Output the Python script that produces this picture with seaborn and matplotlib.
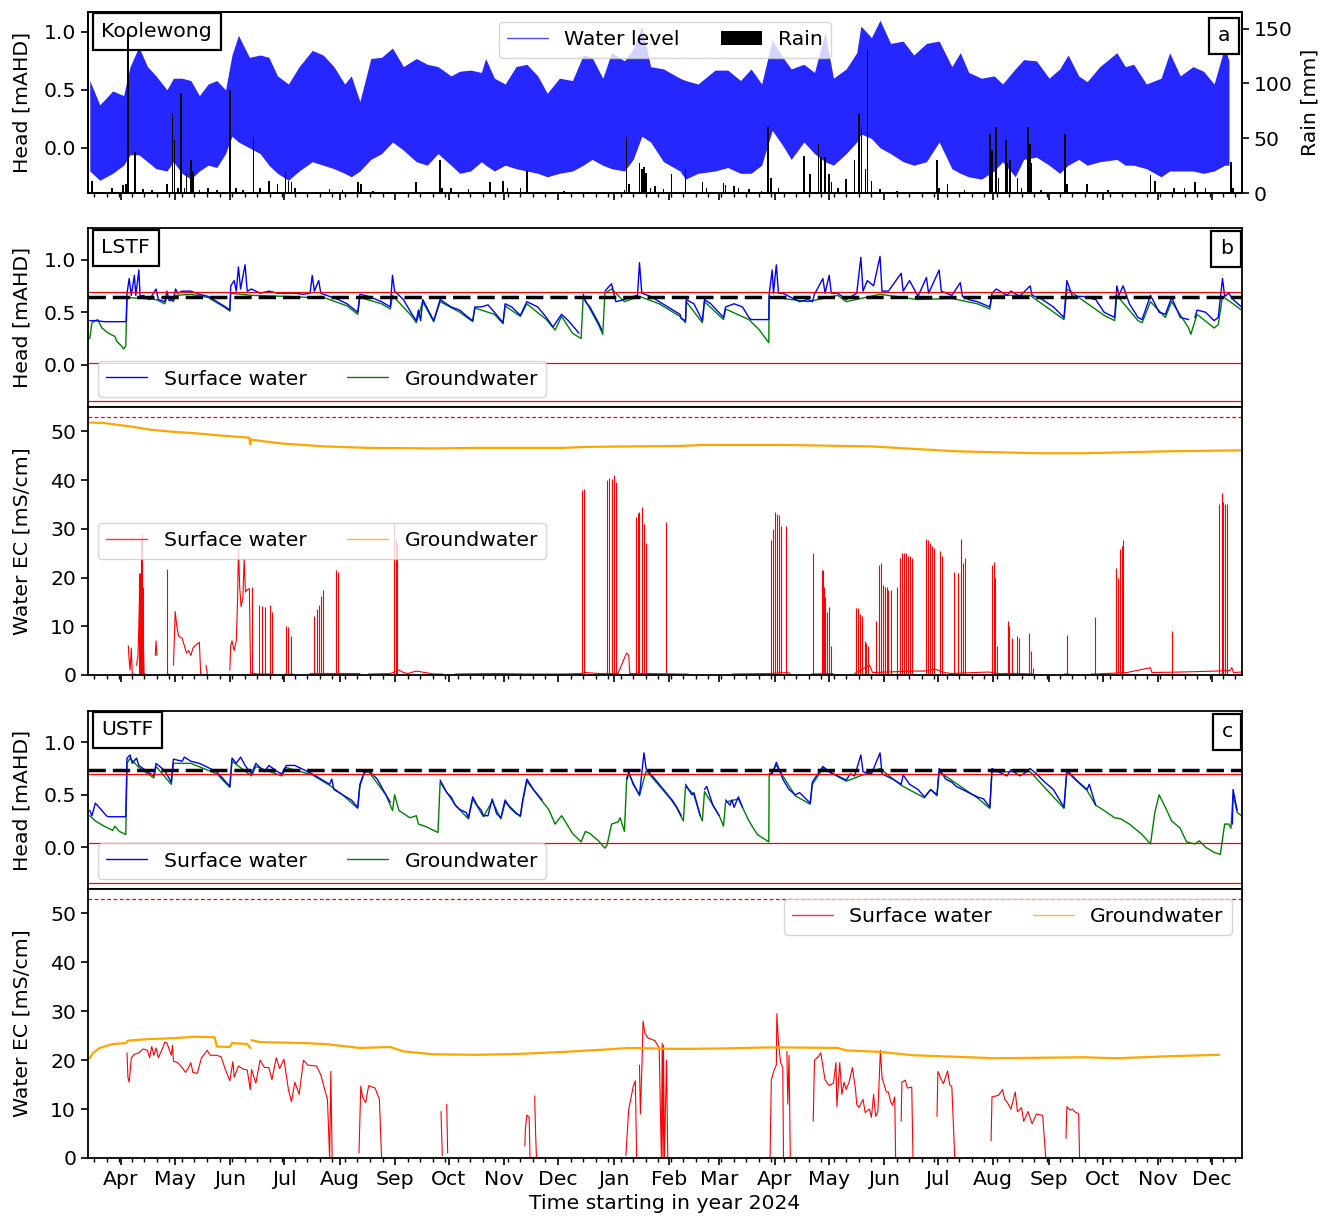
import numpy as np
import pandas as pd
import matplotlib
matplotlib.use("Agg")
import matplotlib.pyplot as plt
import matplotlib.dates as mdates
from matplotlib.lines import Line2D
import seaborn as sns

nan = np.nan
# day 0 = left edge of the time axis
T0 = pd.Timestamp("2024-03-13 13:40")
T_END = 644.3


def to_t(days):
    return T0 + pd.to_timedelta(np.asarray(days, dtype=float), unit="D")


# ---------------- a: Koolewong tide (high / low envelope) + rain ----------------
a_day = [1.0, 6.6, 13.8, 19.9, 23.5, 28.4, 33.2, 38.0, 44.1, 47.7,
         52.5, 57.4, 62.2, 67.1, 71.9, 76.8, 80.4, 84.0, 90.1, 96.1,
         101.0, 105.8, 111.9, 117.9, 125.2, 131.3, 137.3, 143.3, 147.0, 151.8,
         157.9, 163.9, 170.0, 176.1, 183.3, 189.4, 195.4, 202.7, 207.5, 213.6,
         219.6, 222.0, 226.9, 232.9, 239.0, 245.0, 251.1, 256.4, 263.2, 270.5,
         276.5, 281.4, 287.4, 292.3, 299.5, 304.4, 309.2, 314.1, 321.3, 330.5,
         333.6, 340.6, 350.1, 357.2, 364.3, 370.2, 376.1, 382.0, 387.9, 392.6,
         399.7, 405.6, 411.5, 416.2, 423.3, 429.2, 431.5, 437.4, 442.2, 448.1,
         455.1, 461.0, 468.1, 475.2, 482.3, 487.0, 491.7, 498.8, 505.9, 510.6,
         517.7, 522.4, 529.5, 536.6, 542.5, 547.2, 553.1, 557.8, 564.9, 574.4,
         579.1, 583.8, 590.9, 599.1, 603.9, 609.8, 616.9, 622.8, 628.7, 634.6,
         637.0]
a_hi = [0.58, 0.37, 0.49, 0.45, 0.70, 0.87, 0.70, 0.62, 0.50, 0.60,
        0.60, 0.58, 0.45, 0.55, 0.58, 0.50, 0.80, 0.97, 0.78, 0.80,
        0.78, 0.62, 0.55, 0.70, 0.84, 0.80, 0.70, 0.55, 0.62, 0.40,
        0.77, 0.78, 0.86, 0.70, 0.77, 0.72, 0.70, 0.62, 0.66, 0.67,
        0.65, 0.77, 0.60, 0.55, 0.70, 0.72, 0.62, 0.47, 0.60, 0.58,
        0.80, 0.78, 0.60, 0.82, 0.75, 0.85, 1.05, 0.70, 0.68, 0.60,
        0.58, 0.55, 0.67, 0.67, 0.58, 0.68, 0.55, 0.93, 0.78, 0.68,
        0.72, 0.65, 0.99, 0.60, 0.68, 0.82, 1.05, 0.95, 1.10, 0.90,
        0.92, 0.80, 0.90, 0.92, 0.70, 0.82, 0.65, 0.60, 0.62, 0.55,
        0.68, 0.76, 0.75, 0.60, 0.68, 0.80, 0.62, 0.57, 0.70, 0.82,
        0.70, 0.72, 0.55, 0.60, 0.82, 0.62, 0.70, 0.66, 0.55, 0.87,
        0.75]
a_lo = [-0.20, -0.28, -0.22, -0.15, -0.06, -0.06, -0.12, -0.18, -0.20, -0.12,
        -0.22, -0.27, -0.20, -0.15, -0.17, -0.05, 0.10, 0.05, 0.00, -0.05,
        -0.15, -0.22, -0.28, -0.20, -0.12, -0.15, -0.18, -0.22, -0.25, -0.20,
        -0.10, -0.05, 0.05, -0.02, -0.12, -0.15, -0.05, -0.15, -0.22, -0.20,
        -0.12, -0.15, -0.20, -0.15, -0.18, -0.20, -0.22, -0.25, -0.22, -0.20,
        -0.15, -0.10, -0.15, -0.18, -0.20, -0.10, 0.10, 0.05, -0.12, -0.20,
        -0.27, -0.22, -0.20, -0.17, -0.22, -0.22, -0.15, 0.15, 0.02, -0.10,
        0.05, -0.05, -0.12, -0.15, -0.05, 0.05, 0.12, 0.08, 0.00, -0.05,
        -0.12, -0.15, -0.12, 0.05, -0.18, -0.22, -0.25, -0.27, -0.20, -0.12,
        -0.25, -0.10, -0.08, -0.15, -0.22, -0.15, -0.10, -0.15, -0.12, -0.10,
        -0.15, -0.15, -0.18, -0.25, -0.20, -0.20, -0.20, -0.22, -0.20, -0.15,
        -0.15]

rain = [(2.4, 11), (13.3, 5), (19.4, 7), (21.1, 8), (22.5, 146), (26.4, 37), (30.8, 4), (35.6, 3),
        (44.1, 8), (47.2, 72), (48.2, 48), (50.1, 5), (52.1, 91), (53.8, 5), (55.0, 17), (57.4, 30),
        (58.6, 20), (62.2, 3), (67.1, 5), (71.9, 3), (79.2, 94), (82.8, 5), (86.5, 3), (92.5, 51),
        (96.1, 5), (101.0, 11), (105.8, 8), (110.2, 19), (111.9, 11), (113.6, 10), (115.5, 5),
        (134.9, 4), (142.1, 3), (150.6, 10), (152.3, 8), (159.1, 2), (183.3, 10), (196.6, 30),
        (197.8, 5), (202.7, 5), (212.4, 4), (224.5, 10), (231.7, 11), (234.2, 5), (241.4, 5),
        (245.0, 20), (265.6, 2), (299.5, 3), (300.7, 51), (301.9, 8), (307.9, 27), (309.2, 22),
        (310.4, 24), (311.6, 18), (314.1, 5), (316.5, 6), (321.3, 4), (325.7, 17), (333.6, 22),
        (343.0, 10), (345.4, 5), (354.8, 9), (356.0, 7), (360.7, 6), (363.1, 5), (369.0, 4),
        (376.1, 2), (379.6, 60), (381.3, 14), (385.5, 5), (399.7, 34), (403.2, 17), (407.9, 45),
        (409.1, 33), (411.5, 33), (413.8, 17), (415.0, 10), (418.6, 5), (423.3, 13), (428.0, 30),
        (430.4, 72), (431.8, 60), (434.1, 22), (435.1, 130), (437.4, 11), (442.2, 4), (451.6, 2),
        (474.0, 30), (475.2, 5), (479.9, 8), (489.4, 3), (503.5, 54), (504.7, 39), (507.1, 60),
        (508.3, 14), (512.5, 48), (513.4, 27), (514.9, 30), (518.9, 14), (521.2, 5), (524.8, 60),
        (526.0, 45), (526.7, 27), (531.9, 3), (545.6, 54), (546.5, 8), (557.8, 8), (569.6, 3),
        (593.2, 16), (595.6, 11), (606.2, 5), (612.1, 5), (618.0, 10), (623.9, 5), (638.1, 28),
        (639.3, 5)]

# ---------------- b: LSTF ----------------
b_sw = [(1.0, 0.42), (4.1, 0.42), (9.0, 0.41), (13.8, 0.41), (18.7, 0.41), (21.3, 0.41), (21.8, 0.68),
        (23.0, 0.82), (24.2, 0.66), (25.9, 0.85), (26.7, 0.66), (28.4, 0.90), (29.1, 0.65), (30.8, 0.66),
        (34.4, 0.62), (38.0, 0.72), (39.3, 0.62), (42.9, 0.60), (44.1, 0.70), (45.3, 0.61), (47.7, 0.62),
        (48.9, 0.72), (50.1, 0.68), (52.6, 0.70), (57.4, 0.70), (62.2, 0.67), (67.1, 0.65), (71.9, 0.60),
        (76.8, 0.55), (79.2, 0.52), (79.7, 0.75), (81.6, 0.80), (82.8, 0.70), (84.0, 0.93), (85.2, 0.72),
        (87.7, 0.95), (88.9, 0.70), (91.3, 0.72), (96.1, 0.68), (101.0, 0.70), (105.8, 0.68), (110.7, 0.68),
        (115.5, 0.68), (120.3, 0.67), (124.0, 0.68), (125.2, 0.85), (126.4, 0.70), (128.8, 0.80),
        (130.0, 0.68), (134.9, 0.65), (139.7, 0.62), (144.6, 0.58), (150.6, 0.50), (151.8, 0.67),
        (156.7, 0.65), (163.9, 0.60), (168.8, 0.55), (170.0, 0.85), (171.2, 0.70), (176.1, 0.62),
        (180.9, 0.48), (183.3, 0.42), (184.5, 0.52), (185.7, 0.42), (186.9, 0.62), (190.6, 0.50),
        (193.0, 0.42), (196.6, 0.62), (202.7, 0.55), (207.5, 0.52), (212.4, 0.45), (214.8, 0.42),
        (216.0, 0.55), (219.6, 0.55), (223.3, 0.57), (226.9, 0.50), (231.7, 0.40), (232.9, 0.58),
        (236.6, 0.55), (241.4, 0.47), (245.0, 0.60), (251.1, 0.55), (255.9, 0.45), (259.6, 0.36),
        (262.0, 0.42), (264.4, 0.48), (268.1, 0.42), (271.7, 0.35), (274.1, 0.30), (275.0, nan),
        (276.5, 0.67), (277.7, 0.60), (280.2, 0.55), (285.0, 0.40), (286.9, 0.33), (287.5, nan),
        (288.6, 0.70), (292.3, 0.77), (294.7, 0.60), (299.5, 0.62), (304.4, 0.65), (306.8, 0.66),
        (307.9, 0.97), (309.2, 0.68), (314.1, 0.65), (318.9, 0.60), (323.7, 0.55), (330.5, 0.48),
        (331.2, 0.44), (333.6, 0.42), (334.0, 0.62), (338.3, 0.58), (343.0, 0.42), (344.2, 0.62),
        (347.7, 0.58), (354.8, 0.45), (356.0, 0.55), (360.7, 0.58), (365.4, 0.55), (369.0, 0.45),
        (370.2, 0.43), (374.9, 0.43), (380.1, 0.43), (380.3, 0.67), (382.0, 0.90), (382.7, 0.68),
        (384.3, 0.95), (385.5, 0.68), (387.9, 0.68), (392.6, 0.64), (397.3, 0.60), (402.0, 0.62),
        (404.4, 0.60), (405.6, 0.67), (410.3, 0.82), (411.5, 0.68), (413.8, 0.85), (415.0, 0.68),
        (418.6, 0.68), (423.3, 0.62), (429.2, 0.68), (431.5, 1.02), (432.7, 0.70), (435.1, 0.80),
        (438.6, 0.75), (442.2, 1.03), (443.3, 0.70), (446.9, 0.70), (454.0, 0.87), (455.1, 0.70),
        (458.7, 0.80), (463.4, 0.65), (468.1, 0.83), (469.3, 0.68), (475.2, 0.90), (476.4, 0.70),
        (482.3, 0.66), (487.0, 0.78), (488.2, 0.65), (491.7, 0.62), (496.5, 0.60), (503.5, 0.55),
        (504.7, 0.68), (507.1, 0.72), (513.0, 0.66), (515.3, 0.70), (520.1, 0.65), (526.0, 0.75),
        (527.1, 0.66), (531.9, 0.63), (539.0, 0.55), (544.9, 0.45), (546.5, 0.80), (549.6, 0.65),
        (555.5, 0.65), (562.6, 0.62), (567.3, 0.50), (573.2, 0.45), (574.4, 0.75), (575.6, 0.66),
        (577.9, 0.75), (581.4, 0.58), (586.2, 0.45), (588.5, 0.43), (593.2, 0.66), (598.0, 0.50),
        (601.5, 0.48), (605.0, 0.64), (609.8, 0.45), (614.5, 0.43), (616.0, nan), (618.0, 0.45),
        (619.2, 0.52), (623.9, 0.50), (628.7, 0.42), (631.0, 0.45), (633.4, 0.82), (634.6, 0.65),
        (636.9, 0.68), (639.3, 0.62), (644.0, 0.55)]
b_gw = [(1.0, 0.25), (2.2, 0.40), (5.4, 0.43), (7.8, 0.35), (11.4, 0.30), (15.0, 0.27), (16.2, 0.22),
        (18.7, 0.18), (19.9, 0.15), (21.1, 0.18), (21.8, 0.64), (30.8, 0.63), (38.0, 0.62), (42.9, 0.58),
        (44.1, 0.65), (47.7, 0.60), (48.9, 0.66), (57.4, 0.67), (67.1, 0.64), (76.8, 0.54), (79.2, 0.51),
        (79.7, 0.68), (91.3, 0.66), (110.7, 0.65), (124.0, 0.64), (130.0, 0.65), (144.6, 0.56),
        (150.6, 0.48), (151.8, 0.64), (163.9, 0.58), (168.8, 0.53), (170.0, 0.66), (180.9, 0.46),
        (183.3, 0.40), (186.9, 0.60), (193.0, 0.41), (196.6, 0.60), (207.5, 0.50), (214.8, 0.41),
        (216.0, 0.54), (226.9, 0.48), (231.7, 0.39), (232.9, 0.56), (241.4, 0.46), (245.0, 0.58),
        (255.9, 0.43), (260.8, 0.33), (264.4, 0.46), (270.5, 0.30), (275.3, 0.25), (276.5, 0.65),
        (285.0, 0.38), (287.4, 0.29), (288.6, 0.68), (292.3, 0.72), (299.5, 0.60), (307.9, 0.65),
        (318.9, 0.58), (330.5, 0.46), (333.6, 0.40), (334.0, 0.60), (343.0, 0.40), (344.2, 0.60),
        (354.8, 0.43), (356.0, 0.53), (369.0, 0.43), (374.9, 0.33), (380.1, 0.21), (380.3, 0.65),
        (392.6, 0.62), (402.0, 0.60), (418.6, 0.66), (423.3, 0.60), (442.2, 0.67), (463.4, 0.62),
        (482.3, 0.63), (496.5, 0.58), (503.5, 0.53), (504.7, 0.66), (526.0, 0.66), (544.9, 0.43),
        (546.5, 0.72), (567.3, 0.47), (573.2, 0.42), (574.4, 0.66), (586.2, 0.42), (588.5, 0.40),
        (593.2, 0.60), (601.5, 0.45), (605.0, 0.60), (614.5, 0.35), (615.7, 0.29), (619.2, 0.48),
        (628.7, 0.35), (631.0, 0.38), (633.4, 0.65), (639.3, 0.58), (644.0, 0.52)]
b_red_lines = [0.69, 0.02, -0.34]
b_dash = 0.64

b_ec_gw = [(1.0, 51.8), (9.0, 51.7), (23.5, 51.0), (35.6, 50.3), (47.7, 49.9), (59.8, 49.6), (71.9, 49.2),
           (90.1, 48.7), (90.6, 47.3), (90.8, 48.3), (108.2, 47.5), (132.5, 46.9), (156.7, 46.6),
           (193.0, 46.5), (217.2, 46.6), (265.6, 46.6), (277.7, 46.8), (301.9, 46.9), (330.5, 47.0),
           (343.0, 47.2), (390.2, 47.2), (437.4, 46.9), (465.8, 46.3), (484.7, 45.9), (531.9, 45.5),
           (555.5, 45.5), (579.1, 45.7), (602.7, 45.9), (644.0, 46.1)]
b_ec_sw = [(22.5, 6.0), (23.0, 3.0), (23.5, 1.0), (24.2, 5.5), (24.7, 0.2), (26.0, 0.2), (26.5, nan),
           (27.1, 2.0), (27.9, 4.0), (28.4, 10.0), (29.0, 20.0), (30.3, 18.0), (31.3, 0.3), (32.0, 0.2),
           (33.0, nan), (37.6, 4.0), (38.0, 7.0), (38.5, 4.0), (40.0, nan), (44.1, 0.2), (45.3, 0.2),
           (46.0, nan), (47.7, 2.0), (48.7, 13.0), (49.6, 10.0), (50.6, 8.0), (52.6, 7.5), (53.8, 6.0),
           (55.0, 4.5), (56.2, 5.0), (57.4, 4.0), (58.6, 5.5), (59.8, 6.0), (62.2, 6.7), (62.9, 0.3),
           (63.4, 0.2), (64.0, nan), (65.9, 2.0), (66.6, 0.2), (70.0, nan), (79.2, 1.0), (79.7, 6.0),
           (80.4, 7.0), (81.6, 5.0), (82.8, 7.0), (83.5, 15.0), (84.0, 26.0), (84.7, 18.0), (85.5, 14.0),
           (86.5, 16.0), (87.2, 24.0), (87.9, 17.0), (88.9, 17.5), (90.1, 17.7), (90.8, 0.3), (95.0, 0.2),
           (103.3, 0.2), (105.0, nan), (110.0, 0.2), (114.3, 0.2), (116.0, nan), (124.0, 0.3), (132.0, 0.3),
           (137.3, 0.3), (151.8, 0.3), (153.0, nan), (156.7, 0.2), (168.8, 0.3), (173.6, 1.0), (176.1, 0.5),
           (178.5, 0.3), (183.3, 0.8), (193.0, 0.2), (197.8, 0.2), (200.0, nan), (205.0, 0.2), (226.9, 0.3),
           (245.0, 0.2), (265.6, 0.2), (275.3, 0.3), (277.7, 0.5), (285.0, 0.3), (295.9, 0.3), (300.7, 4.5),
           (301.9, 4.0), (302.5, 0.3), (312.8, 0.3), (330.5, 0.2), (335.0, 0.2), (345.0, nan), (360.0, 0.2),
           (380.5, 0.3), (390.5, 0.5), (392.0, 0.3), (400.0, nan), (404.0, 0.2), (416.0, 0.3), (420.0, nan),
           (428.0, 0.3), (436.3, 2.0), (437.0, 1.5), (438.0, 0.5), (461.0, 0.8), (467.0, 0.8), (473.0, 1.2),
           (478.0, 0.5), (482.0, 0.3), (495.0, 0.5), (503.0, 0.6), (508.0, 0.3), (520.0, 0.3), (528.0, 0.2),
           (535.0, nan), (545.0, 0.2), (547.5, 0.2), (555.0, nan), (560.0, 0.2), (563.0, 0.2), (568.0, 0.3),
           (580.0, 0.5), (593.2, 1.5), (594.0, 0.5), (610.0, 0.6), (620.0, 0.7), (630.0, 0.8), (637.5, 0.9),
           (638.6, 1.5), (639.5, 0.5), (644.0, 0.6)]
# short saline spikes in surface-water EC (day, peak)
b_ec_spk = [(28.4, 21.0), (28.9, 21.0), (29.6, 27.7), (30.3, 29.0), (30.8, 18.0), (44.1, 21.7),
            (91.8, 18.0), (95.6, 14.3), (97.3, 14.2), (99.0, 14.0), (101.5, 14.3), (102.9, 13.0),
            (110.7, 10.0), (111.9, 9.8), (113.6, 8.0), (126.4, 12.2), (127.6, 13.5), (128.8, 14.3),
            (130.0, 16.2), (131.3, 17.5), (138.5, 21.5), (139.7, 21.2), (170.7, 31.0), (171.7, 27.6),
            (172.7, 27.0), (275.8, 38.0), (276.8, 38.2), (289.8, 40.0), (291.0, 40.5), (292.3, 40.2),
            (293.5, 41.0), (294.7, 39.5), (306.0, 32.5), (307.3, 33.2), (307.9, 33.5), (309.2, 34.5),
            (310.4, 31.0), (311.6, 27.0), (322.5, 31.3), (381.5, 27.7), (382.2, 30.0), (383.6, 33.5),
            (384.8, 33.0), (385.7, 32.8), (386.7, 30.6), (389.8, 30.6), (404.9, 25.0), (409.6, 21.5),
            (410.3, 21.5), (411.0, 18.0), (411.5, 16.0), (412.6, 13.0), (413.8, 14.0), (415.0, 6.0),
            (428.7, 13.7), (429.9, 13.7), (430.8, 12.5), (432.2, 12.0), (433.9, 7.0), (434.6, 6.5),
            (435.5, 6.0), (439.8, 11.0), (441.7, 22.5), (442.6, 23.0), (443.8, 18.5), (445.0, 18.0),
            (445.9, 18.0), (446.9, 17.5), (448.1, 17.5), (451.6, 18.0), (453.2, 24.0), (454.4, 25.0),
            (455.6, 25.0), (456.8, 25.0), (458.0, 24.5), (459.2, 24.5), (460.3, 24.0), (468.1, 28.0),
            (469.1, 27.7), (470.0, 27.0), (471.2, 26.5), (472.4, 26.0), (475.7, 25.5), (476.6, 24.5),
            (483.5, 21.2), (485.8, 21.0), (487.5, 27.9), (488.4, 23.0), (489.4, 24.0), (504.7, 22.6),
            (505.7, 23.1), (506.6, 20.0), (507.6, 6.0), (513.4, 11.0), (514.4, 10.0), (515.6, 7.5),
            (518.9, 7.9), (519.8, 7.5), (525.3, 8.7), (526.4, 5.0), (527.4, 1.5), (546.5, 8.2),
            (562.1, 11.8), (573.9, 21.9), (575.3, 20.0), (576.3, 25.8), (577.2, 26.5), (578.1, 27.8),
            (605.0, 9.0), (631.7, 35.1), (632.9, 37.4), (633.9, 35.5), (635.0, 35.0), (636.0, 35.0)]

# ---------------- c: USTF ----------------
c_sw = [(1.0, 0.35), (2.2, 0.30), (4.1, 0.42), (7.8, 0.35), (10.2, 0.30), (11.4, 0.29), (21.1, 0.29),
        (21.8, 0.85), (23.5, 0.88), (24.7, 0.80), (27.1, 0.85), (28.4, 0.78), (33.2, 0.72), (36.8, 0.68),
        (38.0, 0.80), (42.9, 0.73), (46.5, 0.62), (47.7, 0.84), (52.6, 0.82), (53.8, 0.86), (57.4, 0.82),
        (62.2, 0.80), (67.1, 0.76), (71.9, 0.72), (79.2, 0.58), (80.4, 0.85), (82.8, 0.80), (85.2, 0.86),
        (87.7, 0.78), (91.3, 0.70), (93.7, 0.80), (98.5, 0.72), (101.0, 0.78), (105.8, 0.72), (108.2, 0.70),
        (110.7, 0.78), (115.5, 0.78), (120.3, 0.74), (125.2, 0.70), (130.0, 0.65), (134.9, 0.60),
        (136.1, 0.65), (137.3, 0.55), (142.1, 0.50), (147.0, 0.45), (150.6, 0.38), (151.8, 0.60),
        (154.3, 0.72), (156.7, 0.73), (161.5, 0.65), (166.3, 0.50), (168.8, 0.43), (169.5, nan),
        (196.6, 0.64), (200.3, 0.52), (202.7, 0.48), (205.1, 0.40), (207.5, 0.36), (211.2, 0.33),
        (212.4, 0.28), (214.8, 0.48), (217.2, 0.40), (219.6, 0.35), (220.8, 0.30), (223.3, 0.30),
        (225.7, 0.46), (228.1, 0.32), (230.5, 0.28), (232.9, 0.45), (235.4, 0.38), (239.0, 0.32),
        (241.4, 0.30), (242.6, 0.44), (245.0, 0.65), (248.7, 0.55), (251.1, 0.50), (253.5, 0.45),
        (254.0, nan), (300.7, 0.65), (301.9, 0.72), (304.4, 0.60), (307.9, 0.50), (310.4, 0.90),
        (311.6, 0.75), (316.5, 0.65), (321.3, 0.55), (326.1, 0.45), (328.8, 0.38), (331.2, 0.30),
        (332.0, nan), (333.6, 0.60), (337.1, 0.50), (338.3, 0.52), (341.8, 0.30), (342.5, nan),
        (344.2, 0.55), (345.4, 0.58), (348.9, 0.40), (352.4, 0.30), (353.0, nan), (356.0, 0.45),
        (358.4, 0.40), (359.5, 0.45), (360.7, 0.38), (363.1, 0.48), (365.4, 0.38), (366.0, nan),
        (380.3, 0.70), (382.0, 0.70), (384.3, 0.81), (387.9, 0.65), (391.4, 0.55), (394.9, 0.50),
        (397.3, 0.52), (399.7, 0.48), (403.2, 0.42), (404.4, 0.62), (406.7, 0.68), (410.3, 0.77),
        (413.8, 0.72), (418.6, 0.68), (423.3, 0.64), (425.6, 0.70), (428.0, 0.68), (431.5, 0.88),
        (432.7, 0.72), (437.4, 0.70), (442.2, 0.90), (443.3, 0.70), (449.2, 0.65), (454.0, 0.60),
        (455.1, 0.69), (458.7, 0.60), (463.4, 0.55), (467.0, 0.48), (470.5, 0.55), (474.0, 0.50),
        (475.2, 0.75), (478.8, 0.65), (482.3, 0.62), (484.7, 0.58), (488.2, 0.55), (491.7, 0.52),
        (496.5, 0.48), (500.0, 0.46), (503.5, 0.38), (504.7, 0.75), (508.3, 0.72), (513.0, 0.68),
        (515.3, 0.74), (520.1, 0.68), (522.4, 0.70), (526.0, 0.75), (529.5, 0.70), (534.2, 0.62),
        (539.0, 0.55), (544.9, 0.38), (546.5, 0.74), (549.6, 0.68), (553.1, 0.62), (557.8, 0.55),
        (559.0, 0.60), (562.6, 0.40), (563.0, nan), (638.9, 0.22), (639.3, 0.55), (641.6, 0.35)]
c_gw = [(1.0, 0.30), (4.1, 0.25), (9.0, 0.20), (13.8, 0.16), (15.0, 0.20), (17.5, 0.15), (21.1, 0.12),
        (21.8, 0.80), (23.5, 0.85), (28.4, 0.76), (36.8, 0.66), (38.0, 0.77), (46.5, 0.60), (47.7, 0.80),
        (57.4, 0.80), (71.9, 0.70), (79.2, 0.57), (80.4, 0.82), (91.3, 0.68), (93.7, 0.77), (108.2, 0.68),
        (110.7, 0.76), (125.2, 0.69), (134.9, 0.59), (142.1, 0.50), (150.6, 0.37), (151.8, 0.58),
        (154.3, 0.71), (156.7, 0.72), (166.3, 0.50), (170.0, 0.35), (171.2, 0.50), (173.6, 0.35),
        (179.7, 0.28), (183.3, 0.30), (184.5, 0.22), (188.1, 0.20), (193.0, 0.16), (195.4, 0.14),
        (196.6, 0.62), (205.1, 0.40), (212.4, 0.27), (214.8, 0.46), (220.8, 0.29), (225.7, 0.44),
        (230.5, 0.27), (232.9, 0.43), (241.4, 0.29), (242.6, 0.42), (245.0, 0.63), (253.5, 0.44),
        (257.2, 0.36), (260.8, 0.22), (264.4, 0.30), (268.1, 0.20), (270.5, 0.13), (275.3, 0.05),
        (277.7, 0.15), (280.2, 0.13), (285.0, 0.06), (288.6, -0.01), (289.8, 0.02), (292.3, 0.22),
        (295.9, 0.24), (297.1, 0.28), (299.5, 0.15), (300.7, 0.63), (301.9, 0.70), (307.9, 0.49),
        (311.6, 0.73), (321.3, 0.54), (326.1, 0.44), (328.8, 0.37), (332.4, 0.25), (333.6, 0.58),
        (338.3, 0.50), (341.8, 0.30), (343.0, 0.25), (344.2, 0.53), (348.9, 0.40), (352.4, 0.30),
        (354.8, 0.20), (356.0, 0.43), (363.1, 0.46), (365.4, 0.38), (369.0, 0.25), (373.7, 0.12),
        (380.1, 0.05), (380.3, 0.68), (384.3, 0.78), (394.9, 0.49), (403.2, 0.41), (404.4, 0.60),
        (410.3, 0.75), (423.3, 0.63), (442.2, 0.75), (454.0, 0.59), (467.0, 0.47), (470.5, 0.55),
        (474.0, 0.49), (475.2, 0.72), (496.5, 0.47), (503.5, 0.37), (504.7, 0.72), (526.0, 0.72),
        (544.9, 0.37), (546.5, 0.72), (557.8, 0.54), (562.6, 0.40), (567.3, 0.35), (573.2, 0.28),
        (576.7, 0.27), (581.4, 0.22), (588.5, 0.12), (593.2, 0.03), (595.6, 0.33), (598.0, 0.50),
        (601.5, 0.38), (605.0, 0.25), (609.8, 0.18), (613.3, 0.05), (618.0, 0.03), (620.4, 0.06),
        (623.9, 0.00), (628.7, -0.05), (632.2, -0.07), (634.6, 0.22), (636.9, 0.22), (638.1, 0.18),
        (639.3, 0.50), (641.6, 0.33), (644.0, 0.30)]
c_red_lines = [0.70, 0.035, -0.34]
c_dash = 0.74

c_ec_gw = [(1.0, 20.4), (2.9, 21.5), (6.6, 22.5), (13.8, 23.3), (21.1, 23.5), (22.3, 24.0), (33.2, 24.3),
           (47.7, 24.5), (59.8, 24.8), (70.7, 24.7), (71.9, 22.8), (79.2, 22.7), (80.4, 23.5), (88.9, 23.3),
           (90.6, 22.5), (90.9, nan), (91.3, 24.1), (96.1, 23.7), (120.3, 23.5), (132.5, 23.3),
           (144.6, 22.8), (151.8, 22.5), (168.8, 22.7), (176.1, 21.8), (193.0, 21.2), (217.2, 21.1),
           (241.4, 21.3), (265.6, 21.7), (289.8, 22.2), (301.9, 22.5), (330.5, 22.3), (354.8, 22.4),
           (378.4, 22.6), (390.2, 22.6), (418.6, 22.5), (423.3, 22.0), (442.2, 21.7), (461.0, 21.0),
           (484.7, 20.7), (505.9, 20.4), (531.9, 20.5), (555.5, 20.6), (574.4, 20.4), (602.7, 20.8),
           (631.5, 21.1)]
c_ec_sw = [(21.8, 21.5), (22.3, 16.5), (23.0, 15.5), (24.2, 20.5), (25.9, 21.2), (28.4, 21.5), (30.8, 22.3),
           (33.2, 22.0), (34.4, 20.5), (35.6, 22.8), (36.8, 21.0), (38.0, 22.5), (39.3, 20.5), (41.7, 22.5),
           (42.9, 23.7), (44.1, 23.5), (46.5, 21.0), (47.2, 23.0), (47.7, 19.8), (50.1, 19.5), (52.6, 18.5),
           (54.5, 17.5), (56.2, 18.5), (57.4, 19.5), (58.6, 17.5), (61.0, 17.3), (63.4, 20.5), (66.6, 22.0),
           (68.3, 21.0), (71.9, 21.0), (74.3, 20.7), (76.8, 18.0), (79.2, 15.8), (80.9, 19.7), (81.6, 16.5),
           (84.0, 18.8), (86.5, 18.2), (88.9, 18.0), (90.6, 14.0), (91.3, 18.1), (93.7, 15.3), (96.1, 20.0),
           (98.5, 18.5), (101.0, 18.5), (102.7, 16.0), (105.1, 20.5), (107.0, 18.3), (109.4, 20.2),
           (111.9, 14.0), (113.6, 11.5), (115.5, 15.5), (117.9, 13.0), (120.3, 20.0), (122.8, 19.0),
           (127.6, 18.8), (130.0, 17.0), (132.5, 13.5), (133.7, 12.0), (134.9, 0.0), (135.6, 17.7),
           (136.3, 0.0), (138.0, 0.0), (138.5, nan), (151.3, 1.0), (152.3, 14.7), (153.3, 12.5),
           (155.0, 11.3), (156.7, 14.8), (160.3, 14.3), (162.7, 12.0), (163.9, 0.0), (166.3, 0.0),
           (166.8, nan), (197.1, 9.5), (197.8, 0.5), (198.5, nan), (200.3, 11.0), (200.8, 1.0), (201.5, nan),
           (243.9, 2.5), (244.2, 6.0), (245.0, 8.8), (246.3, 8.3), (246.8, 0.0), (247.5, nan), (249.4, 12.7),
           (249.9, 5.0), (250.4, 0.0), (251.0, nan), (300.3, 0.5), (301.9, 10.0), (304.4, 14.6),
           (305.6, 15.8), (306.3, 0.0), (307.0, nan), (307.9, 19.0), (308.4, 9.0), (309.2, 18.0),
           (309.9, 28.0), (310.9, 25.5), (312.8, 24.5), (316.5, 24.0), (318.9, 22.5), (320.1, 0.0),
           (320.6, 23.5), (321.0, 0.0), (321.3, 23.0), (321.8, 0.0), (323.0, 20.0), (323.7, 0.0),
           (324.9, 0.0), (325.5, nan), (380.8, 0.0), (381.5, 16.0), (383.1, 18.0), (384.3, 19.0),
           (384.6, 29.5), (385.5, 23.5), (386.7, 19.5), (387.9, 18.5), (388.3, 0.0), (389.0, nan),
           (390.2, 21.8), (390.7, 11.0), (391.4, 21.0), (392.1, 0.0), (392.8, nan), (404.9, 7.5),
           (405.6, 20.0), (407.9, 20.8), (409.1, 21.5), (411.5, 16.0), (413.8, 14.8), (416.2, 15.3),
           (417.6, 19.5), (418.1, 10.5), (419.7, 19.5), (420.9, 13.0), (422.1, 15.5), (423.3, 14.0),
           (424.9, 15.5), (426.8, 18.5), (428.5, 14.0), (429.2, 11.0), (430.4, 10.3), (432.7, 12.0),
           (433.9, 9.3), (436.3, 10.0), (437.4, 8.3), (438.6, 13.0), (439.8, 8.5), (441.0, 9.5),
           (442.4, 22.0), (443.3, 16.5), (445.7, 13.5), (446.9, 13.5), (448.1, 11.5), (449.2, 10.8),
           (450.4, 12.5), (450.9, 0.0), (451.5, nan), (454.0, 7.5), (454.4, 15.5), (456.3, 15.9),
           (457.5, 14.3), (459.9, 14.5), (460.6, 0.0), (461.2, nan), (474.0, 8.5), (474.5, 17.7),
           (476.4, 16.0), (477.6, 15.2), (479.9, 17.8), (481.1, 15.0), (482.3, 14.5), (483.9, 0.0),
           (484.5, nan), (504.2, 3.5), (504.7, 12.5), (508.3, 12.8), (510.6, 14.0), (511.8, 12.0),
           (513.0, 11.5), (515.3, 10.0), (517.7, 13.5), (518.9, 9.5), (521.2, 10.3), (522.4, 7.5),
           (524.8, 9.5), (527.1, 7.0), (529.5, 9.0), (533.0, 8.7), (534.7, 0.0), (535.3, nan),
           (546.0, 4.0), (546.5, 10.5), (548.4, 9.8), (549.6, 10.0), (550.7, 9.5), (553.1, 9.0),
           (553.6, 0.0)]
ec_ref = 53.0


def xy(pairs):
    arr = np.array(pairs, dtype=float)
    return to_t(arr[:, 0]), arr[:, 1]


# ---------------- figure ----------------
FS = 14.7
sns.set_theme(style="ticks", rc={
    "font.size": FS, "axes.labelsize": FS, "xtick.labelsize": FS, "ytick.labelsize": FS,
    "legend.fontsize": FS, "axes.edgecolor": "black", "axes.linewidth": 1.3,
    "xtick.color": "black", "ytick.color": "black", "text.color": "black", "axes.labelcolor": "black",
    "xtick.major.size": 5, "xtick.minor.size": 3, "ytick.major.size": 5,
    "xtick.major.width": 1.2, "xtick.minor.width": 1.0, "ytick.major.width": 1.2,
})
plt.rcParams["font.family"] = ["DejaVu Sans"]

fig = plt.figure(figsize=(13.23, 12.21), dpi=100)
L, W = 0.0665, 0.8723
ax_a = fig.add_axes([L, 0.8419, W, 0.1482])
ax_bh = fig.add_axes([L, 0.6667, W, 0.1466])
ax_be = fig.add_axes([L, 0.4472, W, 0.2195])
ax_ch = fig.add_axes([L, 0.2719, W, 0.1458])
ax_ce = fig.add_axes([L, 0.0516, W, 0.2203])

box = dict(boxstyle="square,pad=0.42", fc="white", ec="black", lw=1.6)

# a
ta = to_t(a_day)
ax_a.fill_between(ta, a_lo, a_hi, color="blue", lw=0, alpha=0.85)
ax_a.set_ylim(-0.39, 1.17)
ax_a.set_yticks([0.0, 0.5, 1.0])
ax_a.set_ylabel("Head [mAHD]")
ax_a.text(0.0115, 0.945, "Koolewong", transform=ax_a.transAxes, ha="left", va="top", bbox=box)
ax_r = ax_a.twinx()
rt, rv = xy(rain)
bars = ax_r.bar(rt, rv, width=0.9, color="black", edgecolor="none", linewidth=0)
ax_r.set_ylim(0, 165)
ax_r.set_yticks([0, 50, 100, 150])
ax_r.set_ylabel("Rain [mm]")
ax_r.yaxis.set_label_coords(1.051, 0.5)
ax_r.text(0.990, 0.922, "a", transform=ax_r.transAxes, ha="right", va="top", bbox=box)
ax_r.legend([Line2D([], [], color="blue", lw=1, alpha=0.7), bars], ["Water level", "Rain"],
            loc="upper center", ncol=2, frameon=True, fancybox=True)


def head_panel(ax, sw, gw, reds, dash, name, letter, ytxt):
    gt, gv = xy(gw)
    sns.lineplot(x=gt, y=gv, color="green", lw=1.0, ax=ax, estimator=None, sort=False)
    st, sv = xy(sw)
    ax.plot(st, sv, color="blue", lw=1.0)
    for y in reds:
        ax.axhline(y, color="red", lw=0.9)
    ax.axhline(dash, color="black", lw=2.5, ls=(0, (5, 2)))
    ax.set_ylim(-0.4, 1.3)
    ax.set_yticks([0.0, 0.5, 1.0])
    ax.set_ylabel("Head [mAHD]")
    ax.text(0.0115, ytxt, name, transform=ax.transAxes, ha="left", va="top", bbox=box)
    ax.text(0.992, 0.937, letter, transform=ax.transAxes, ha="right", va="top", bbox=box)
    ax.legend([Line2D([], [], color="blue", lw=1), Line2D([], [], color="green", lw=1)],
              ["Surface water", "Groundwater"], loc="lower left", ncol=2, frameon=True, fancybox=True)


def ec_panel(ax, sw, gw, spikes, **legkw):
    st, sv = xy(sw)
    ax.plot(st, sv, color="red", lw=0.8)
    if spikes:
        kt, kv = xy(spikes)
        ax.vlines(kt, 0, kv, color="red", lw=0.8)
    gt, gv = xy(gw)
    ax.plot(gt, gv, color="orange", lw=1.6)
    ax.axhline(ec_ref, color="red", lw=0.9, ls=(0, (3, 2)))
    ax.set_ylim(0, 55)
    ax.set_yticks([0, 10, 20, 30, 40, 50])
    ax.set_ylabel("Water EC [mS/cm]")
    ax.legend([Line2D([], [], color="red", lw=1, alpha=0.8), Line2D([], [], color="orange", lw=1, alpha=0.8)],
              ["Surface water", "Groundwater"], ncol=2, frameon=True, fancybox=True, **legkw)


head_panel(ax_bh, b_sw, b_gw, b_red_lines, b_dash, "LSTF", "b", 0.942)
ec_panel(ax_be, b_ec_sw, b_ec_gw, b_ec_spk, loc="center left", bbox_to_anchor=(0.0, 0.5))
head_panel(ax_ch, c_sw, c_gw, c_red_lines, c_dash, "USTF", "c", 0.948)
ec_panel(ax_ce, c_ec_sw, c_ec_gw, None, loc="upper right")

for ax in [ax_a, ax_bh, ax_be, ax_ch, ax_ce]:
    ax.set_xlim(to_t([0.0])[0], to_t([T_END])[0])
    ax.xaxis.set_major_locator(mdates.MonthLocator())
    ax.xaxis.set_minor_locator(mdates.WeekdayLocator(byweekday=mdates.SU))
    ax.xaxis.set_major_formatter(mdates.DateFormatter("%b"))
    ax.yaxis.set_label_coords(-0.049, 0.5)
    ax.set_xlabel("")
    if ax is not ax_ce:
        ax.tick_params(axis="x", labelbottom=False)
ax_ce.set_xlabel("Time starting in year 2024")

fig.savefig("out.png", dpi=100)
